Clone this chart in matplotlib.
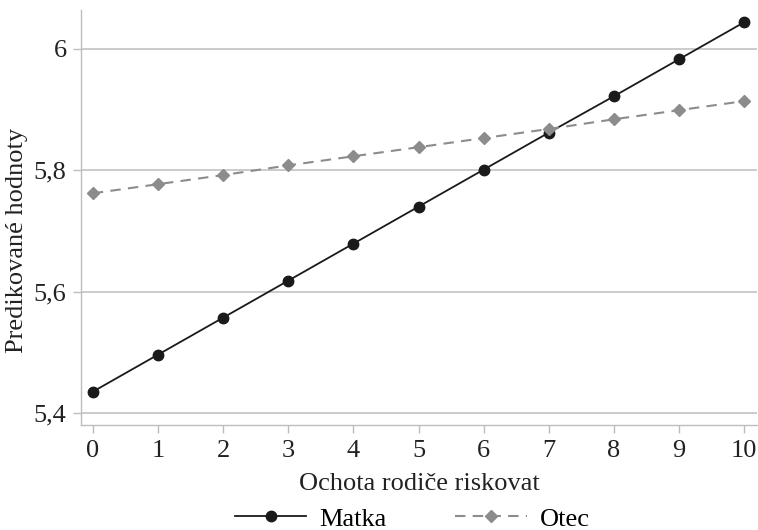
import numpy as np
import matplotlib
matplotlib.use("Agg")
import matplotlib.pyplot as plt

# predikované hodnoty podle ochoty rodiče riskovat
ochota = [0, 1, 2, 3, 4, 5, 6, 7, 8, 9, 10]
matka = [5.435, 5.496, 5.557, 5.618, 5.679, 5.740, 5.801, 5.862, 5.922, 5.983, 6.044]
otec = [5.762, 5.777, 5.792, 5.808, 5.823, 5.838, 5.853, 5.868, 5.884, 5.899, 5.914]
y_ticks = [5.4, 5.6, 5.8, 6.0]
y_labels = ["5,4", "5,6", "5,8", "6"]

plt.rcParams["font.family"] = ["Liberation Serif", "DejaVu Serif"]
plt.rcParams["font.size"] = 19

fig = plt.figure(figsize=(7.58, 5.30), dpi=100)
ax = fig.add_axes([0.107, 0.198, 0.892, 0.783])

ax.plot(ochota, matka, color="#1a1a1a", lw=1.3, marker="o", ms=7.5,
        label="Matka", zorder=3)
ax.plot(ochota, otec, color="#8c8c8c", lw=1.5, ls=(0, (5, 3.5)), marker="D",
        ms=6.5, label="Otec", zorder=4)

ax.set_xlim(-0.18, 10.2)
ax.set_ylim(5.380, 6.064)
ax.set_xticks(ochota)
ax.set_yticks(y_ticks)
ax.set_yticklabels(y_labels)
ax.grid(axis="y", color="#bdbdbd", lw=1.1)
ax.set_axisbelow(True)

for side in ("top", "right"):
    ax.spines[side].set_visible(False)
for side in ("left", "bottom"):
    ax.spines[side].set_color("#bdbdbd")
    ax.spines[side].set_linewidth(1.0)
ax.tick_params(axis="both", colors="#bdbdbd", length=5.5, width=1.0,
               labelcolor="#222222", labelsize=19, pad=5)

ax.set_xlabel("Ochota rodiče riskovat", fontsize=19, color="#222222", labelpad=8)
ax.set_ylabel("Predikované hodnoty", fontsize=19, color="#222222")
ax.yaxis.set_label_coords(-0.078, 0.446)

ax.legend(loc="center", bbox_to_anchor=(0.49, -0.226), ncol=2,
          frameon=False, fontsize=19, handlelength=2.7, columnspacing=2.6,
          handletextpad=0.5, borderaxespad=0, borderpad=0)

fig.savefig("out.png", dpi=100)
